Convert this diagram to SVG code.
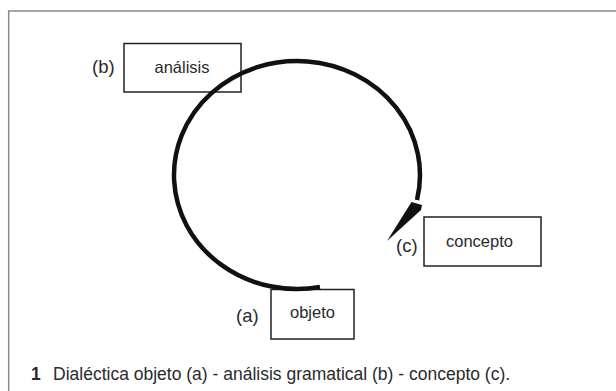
<svg xmlns="http://www.w3.org/2000/svg" width="616" height="391" viewBox="0 0 616 391">
<style>
.frame{fill:none;stroke:#8a8a8a;stroke-width:1.5}
.box{fill:none;stroke:#222;stroke-width:1.5}
.lbl{font-family:"Liberation Sans",Arial,sans-serif;font-size:18.5px;fill:#2a2a2a}
.txt{font-family:"Liberation Sans",Arial,sans-serif;font-size:16.5px;fill:#2a2a2a;text-anchor:middle}
.cap{font-family:"Liberation Sans",Arial,sans-serif;font-size:17.5px;fill:#2a2a2a}
.arc{fill:none;stroke:#111;stroke-width:4.5;stroke-linecap:butt}
</style>
<rect width="616" height="391" fill="#fff"/>
<path class="frame" d="M616,11 H8.7 V391"/>
<g id="node-b">
<rect class="box" x="124" y="43.5" width="117" height="48.5"/>
<text class="lbl" x="92" y="73">(b)</text>
<text class="txt" x="182" y="73">análisis</text>
</g>
<g id="node-c">
<rect class="box" x="424" y="217" width="117" height="49"/>
<text class="lbl" x="396" y="252">(c)</text>
<text class="txt" x="479.5" y="247">concepto</text>
</g>
<g id="node-a">
<rect class="box" x="271" y="289.5" width="83" height="49.5"/>
<text class="lbl" x="236" y="322">(a)</text>
<text class="txt" x="312.5" y="318">objeto</text>
</g>
<g id="connectors">
<path class="arc" d="M320,287 A123,114 0 1 1 417,200"/>
<polygon points="411.5,202 422,205 421,210 387,241" fill="#111"/>
</g>
<text class="cap" x="31" y="380"><tspan font-weight="bold">1</tspan><tspan x="53">Dialéctica objeto (a) - análisis gramatical (b) - concepto (c).</tspan></text>
</svg>
